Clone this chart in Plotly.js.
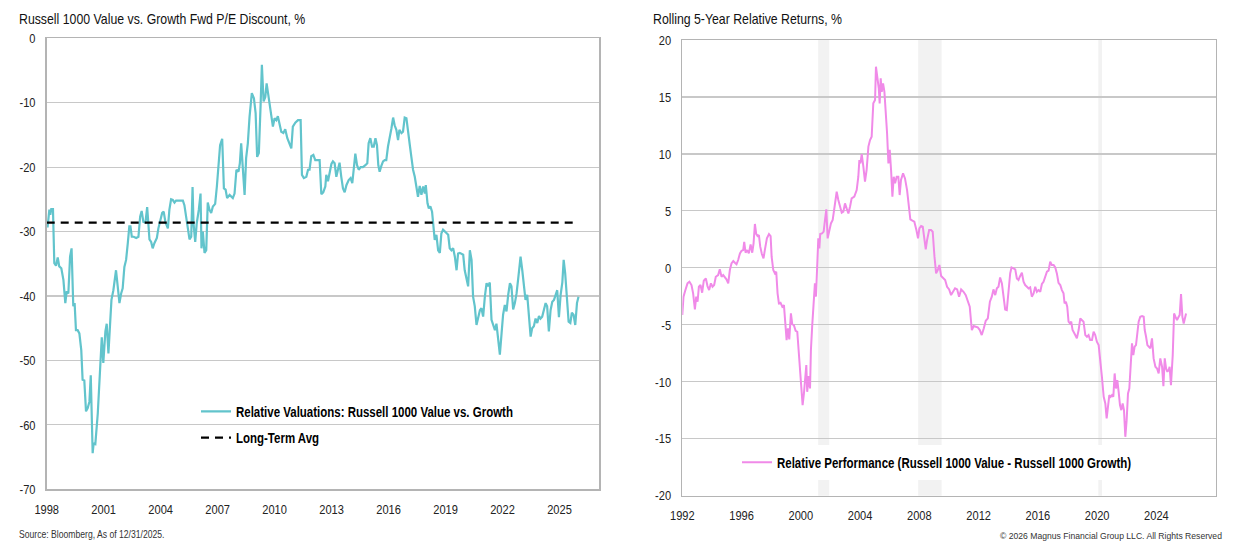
<!DOCTYPE html>
<html>
<head>
<meta charset="utf-8">
<script src="https://cdn.plot.ly/plotly-3.0.1.min.js"></script>
<style>
  html, body { margin: 0; padding: 0; background: #ffffff; }
  #chart { width: 1240px; height: 548px; }
</style>
</head>
<body>
<div id="chart"></div>
<script>
// ---------- Left chart: Russell 1000 Value vs. Growth Fwd P/E Discount, % ----------
const valYears = [
  1998.00,1998.05,1998.14,1998.19,1998.24,1998.33,1998.40,1998.49,1998.58,1998.66,1998.77,1998.88,1998.98,
  1999.05,1999.14,1999.23,1999.31,1999.40,1999.47,1999.54,1999.63,1999.72,1999.82,1999.89,1999.98,
  2000.07,2000.16,2000.25,2000.32,2000.37,2000.42,2000.47,2000.56,2000.69,2000.81,2000.90,2000.98,
  2001.09,2001.16,2001.25,2001.34,2001.41,2001.51,2001.65,2001.76,2001.83,2001.92,
  2002.00,2002.09,2002.18,2002.27,2002.35,2002.41,2002.48,2002.58,2002.71,2002.83,2002.92,
  2003.00,2003.09,2003.20,2003.29,2003.36,2003.41,2003.50,2003.58,2003.67,2003.80,2003.88,2003.97,
  2004.08,2004.16,2004.25,2004.38,2004.46,2004.55,2004.64,2004.73,2004.81,2004.99,
  2005.17,2005.25,2005.34,2005.45,2005.52,2005.61,2005.68,2005.73,2005.82,2005.90,
  2006.01,2006.10,2006.15,2006.22,2006.31,2006.40,2006.48,2006.57,2006.66,2006.75,2006.87,2006.96,
  2007.05,2007.13,2007.24,2007.33,2007.42,2007.50,2007.63,2007.71,2007.80,2007.89,2007.99,
  2008.10,2008.17,2008.24,2008.33,2008.42,2008.50,2008.59,2008.68,2008.80,2008.91,
  2009.00,2009.08,2009.17,2009.26,2009.33,2009.42,2009.51,2009.58,2009.65,2009.73,2009.82,2009.91,
  2010.00,2010.09,2010.17,2010.26,2010.35,2010.46,2010.56,2010.67,2010.79,2010.88,2010.96,
  2011.09,2011.23,2011.37,2011.44,2011.54,2011.67,2011.76,2011.84,2011.93,
  2012.04,2012.14,2012.28,2012.37,2012.46,2012.56,2012.67,2012.72,2012.81,2012.90,2012.99,
  2013.07,2013.16,2013.25,2013.34,2013.42,2013.51,2013.60,2013.69,2013.78,2013.90,
  2014.00,2014.09,2014.16,2014.25,2014.34,2014.43,2014.53,2014.65,2014.78,2014.88,2014.95,
  2015.04,2015.13,2015.22,2015.31,2015.39,2015.46,2015.53,2015.62,2015.71,2015.80,2015.88,2015.97,
  2016.06,2016.15,2016.24,2016.32,2016.41,2016.50,2016.57,2016.68,2016.76,2016.85,2016.94,
  2017.03,2017.12,2017.20,2017.29,2017.38,2017.47,2017.55,2017.64,2017.73,2017.82,2017.91,2017.96,
  2018.05,2018.12,2018.20,2018.29,2018.38,2018.43,2018.52,2018.61,2018.70,2018.78,2018.87,2018.96,
  2019.05,2019.14,2019.22,2019.31,2019.40,2019.49,2019.58,2019.66,2019.75,2019.84,2019.93,
  2020.01,2020.10,2020.19,2020.28,2020.37,2020.45,2020.54,2020.63,2020.72,2020.81,2020.89,2020.98,
  2021.07,2021.16,2021.24,2021.33,2021.42,2021.51,2021.60,2021.68,2021.77,2021.86,2021.95,
  2022.03,2022.12,2022.21,2022.30,2022.39,2022.47,2022.56,2022.65,2022.74,2022.83,2022.95,
  2023.04,2023.12,2023.21,2023.30,2023.39,2023.48,2023.56,2023.65,2023.74,2023.83,2023.92,
  2024.00,2024.09,2024.18,2024.27,2024.35,2024.44,2024.53,2024.62,2024.71,2024.79,2024.88,2024.97,
  2025.06,2025.15,2025.22,2025.30,2025.39,2025.48,2025.57,2025.65,2025.74,2025.83,2025.92,2026.00
];
const valDiscount = [
  -29.2,-29.2,-26.6,-27.4,-26.5,-26.5,-34.9,-35.3,-34.0,-35.4,-35.7,-37.5,-41.1,
  -39.3,-39.6,-33.9,-32.6,-41.6,-41.1,-45.3,-45.3,-45.8,-48.4,-53.0,-53.1,
  -57.9,-57.4,-56.4,-52.3,-60.8,-64.4,-62.9,-63.0,-58.2,-51.5,-46.4,-50.4,
  -45.5,-44.3,-48.9,-44.2,-40.6,-39.1,-36.0,-39.1,-41.1,-39.6,
  -38.8,-35.5,-34.4,-31.8,-29.2,-29.2,-30.8,-30.8,-31.0,-30.8,-27.7,
  -26.8,-28.5,-28.6,-26.2,-29.1,-31.2,-31.6,-32.6,-31.8,-31.0,-29.5,-28.5,
  -27.1,-26.9,-28.5,-29.5,-26.6,-25.0,-25.1,-25.5,-25.2,-25.2,
  -25.2,-25.9,-27.7,-29.2,-31.2,-30.8,-23.1,-28.7,-31.6,-28.7,
  -26.6,-24.1,-32.6,-30.0,-33.3,-32.9,-25.5,-26.6,-27.1,-26.1,-25.7,-23.0,
  -19.9,-16.6,-15.6,-23.3,-23.5,-24.8,-24.3,-24.6,-24.8,-24.1,-20.4,
  -20.7,-19.4,-16.3,-20.4,-24.3,-18.6,-16.3,-12.2,-8.5,-9.3,
  -11.6,-18.4,-17.8,-10.6,-4.1,-9.8,-9.1,-7.0,-8.5,-9.8,-11.4,-13.7,
  -12.4,-12.7,-12.1,-13.2,-14.5,-14.7,-14.1,-15.5,-16.6,-17.1,-13.7,
  -13.1,-12.7,-12.7,-21.2,-21.7,-21.5,-20.4,-20.4,-18.3,
  -18.1,-18.9,-18.9,-18.9,-24.2,-23.9,-23.0,-21.2,-22.2,-21.0,-19.5,
  -19.1,-19.4,-21.5,-20.4,-19.3,-21.5,-23.3,-23.9,-22.8,-22.0,
  -21.7,-22.5,-20.0,-17.9,-19.7,-20.4,-20.0,-20.0,-19.7,-19.4,-16.3,
  -15.5,-16.8,-16.8,-15.5,-16.6,-19.7,-20.7,-19.8,-19.1,-18.9,-18.9,-16.8,
  -15.5,-14.0,-12.3,-13.5,-14.2,-15.8,-14.2,-14.7,-14.5,-12.3,-12.4,
  -15.0,-16.6,-18.4,-20.4,-21.5,-23.0,-24.6,-22.9,-24.3,-23.0,-24.1,-22.8,
  -25.6,-26.4,-26.1,-26.9,-29.7,-31.3,-30.5,-32.9,-33.3,-30.3,-29.7,-30.0,
  -30.2,-30.5,-32.6,-32.9,-32.6,-33.9,-36.0,-33.4,-33.3,-33.5,-33.6,
  -36.0,-37.2,-38.5,-32.9,-34.4,-40.1,-41.6,-44.5,-43.2,-42.2,-41.9,-43.2,
  -40.1,-38.0,-38.5,-37.9,-43.7,-44.5,-45.3,-44.3,-46.6,-49.1,-45.8,
  -42.9,-41.4,-42.4,-39.8,-38.0,-38.5,-42.1,-41.1,-39.6,-37.2,-33.9,
  -36.0,-37.8,-40.6,-39.8,-43.7,-46.3,-45.0,-44.7,-43.5,-44.2,-43.1,
  -43.5,-43.2,-41.9,-41.1,-41.6,-45.5,-42.2,-40.9,-40.6,-40.0,-39.1,-43.3,
  -39.8,-37.9,-34.4,-36.5,-40.1,-44.0,-44.2,-42.6,-42.9,-44.5,-41.1,-40.1
];
const longTermAvg = -28.6;

// ---------- Right chart: Rolling 5-Year Relative Returns, % ----------
const relYears = [
  1992.00,1992.08,1992.21,1992.35,1992.48,1992.62,1992.73,1992.85,1992.94,
  1993.03,1993.12,1993.23,1993.34,1993.45,1993.59,1993.70,1993.81,1993.93,
  1994.04,1994.15,1994.26,1994.42,1994.53,1994.65,1994.76,1994.87,1994.98,
  1995.10,1995.21,1995.32,1995.44,1995.55,1995.66,1995.77,1995.89,
  1996.00,1996.11,1996.18,1996.27,1996.38,1996.49,1996.61,1996.72,1996.81,1996.90,1996.99,
  1997.08,1997.17,1997.26,1997.37,1997.48,1997.57,1997.71,1997.85,1997.96,
  1998.03,1998.14,1998.25,1998.34,1998.43,1998.52,1998.63,1998.75,1998.86,1998.95,
  1999.04,1999.13,1999.22,1999.33,1999.42,1999.53,1999.65,1999.76,1999.87,1999.98,
  2000.05,2000.12,2000.21,2000.30,2000.37,2000.43,2000.53,2000.62,2000.68,2000.77,2000.89,2000.95,
  2001.02,2001.09,2001.18,2001.25,2001.31,2001.43,2001.54,2001.63,2001.72,2001.81,2001.92,
  2002.03,2002.15,2002.26,2002.42,2002.53,2002.64,2002.76,2002.87,2002.98,
  2003.09,2003.21,2003.32,2003.43,2003.61,2003.77,2003.88,2003.95,
  2004.02,2004.11,2004.22,2004.33,2004.44,2004.56,2004.67,2004.78,2004.89,
  2005.01,2005.07,2005.16,2005.26,2005.32,2005.39,2005.46,2005.55,2005.64,2005.73,2005.82,2005.91,
  2006.00,2006.09,2006.18,2006.27,2006.36,2006.47,2006.58,2006.67,2006.76,2006.90,
  2007.03,2007.17,2007.30,2007.39,2007.53,2007.66,2007.80,2007.91,
  2008.00,2008.12,2008.23,2008.34,2008.43,2008.52,2008.66,2008.79,2008.90,
  2009.02,2009.13,2009.24,2009.35,2009.47,2009.60,2009.74,2009.87,
  2010.01,2010.14,2010.28,2010.41,2010.55,2010.68,2010.82,2010.98,
  2011.13,2011.27,2011.40,2011.54,2011.67,2011.81,2011.94,
  2012.08,2012.21,2012.35,2012.48,2012.62,2012.76,2012.89,
  2013.00,2013.12,2013.23,2013.34,2013.45,2013.57,2013.68,2013.79,2013.90,
  2014.02,2014.13,2014.22,2014.33,2014.47,2014.58,2014.69,2014.78,2014.92,
  2015.03,2015.14,2015.26,2015.37,2015.48,2015.59,2015.71,2015.82,2015.93,
  2016.04,2016.16,2016.27,2016.38,2016.49,2016.61,2016.72,2016.83,2016.94,
  2017.06,2017.17,2017.28,2017.39,2017.51,2017.62,2017.73,2017.80,2017.89,2017.98,
  2018.07,2018.16,2018.25,2018.34,2018.43,2018.52,2018.63,2018.75,2018.86,2018.97,
  2019.08,2019.20,2019.31,2019.42,2019.53,2019.65,2019.76,2019.87,2019.98,
  2020.10,2020.21,2020.32,2020.44,2020.55,2020.64,2020.73,2020.82,2020.91,
  2021.00,2021.09,2021.18,2021.27,2021.36,2021.45,2021.54,2021.63,2021.72,2021.81,2021.90,2021.99,
  2022.08,2022.17,2022.26,2022.35,2022.44,2022.53,2022.62,2022.71,2022.80,2022.91,
  2023.03,2023.14,2023.21,2023.30,2023.39,2023.48,2023.59,2023.70,2023.81,2023.93,
  2024.04,2024.15,2024.26,2024.38,2024.47,2024.56,2024.65,2024.74,2024.83,2024.89,2024.98,
  2025.10,2025.19,2025.28,2025.39,2025.50,2025.57,2025.66,2025.75,2025.84,2025.93,2026.00
];
const relPerformance = [
  -4.14,-2.53,-1.95,-1.36,-1.22,-1.51,-2.24,-3.65,-2.53,
  -2.97,-1.66,-1.51,-2.18,-1.13,-0.93,-1.60,-1.95,-1.36,
  -1.66,-1.51,-0.78,-0.63,-0.13,-0.78,-0.63,-0.78,-1.01,
  -1.36,-0.19,0.39,0.60,0.45,0.31,0.69,1.27,
  1.50,1.56,2.29,1.33,1.56,1.27,2.06,1.33,2.15,3.85,2.97,
  2.79,2.88,1.86,1.21,0.83,1.56,2.59,2.97,2.79,
  0.98,-0.19,-0.49,-0.34,-2.24,-3.12,-3.06,-3.41,-3.27,-4.58,
  -6.34,-5.31,-6.28,-4.00,-4.94,-5.03,-5.52,-5.61,-7.66,-9.27,
  -10.44,-12.05,-11.03,-9.70,-8.53,-10.88,-9.50,-10.59,-7.22,-5.03,-2.53,-1.36,
  -2.53,0.39,2.59,1.71,2.97,3.03,3.18,4.20,5.13,2.59,3.32,
  3.90,4.20,5.22,6.68,5.95,5.37,4.84,4.93,5.66,
  5.22,4.78,5.37,6.10,6.25,6.83,8.00,9.46,
  9.17,9.99,8.88,7.56,8.59,10.64,11.22,11.51,14.44,
  14.73,17.66,16.78,15.76,14.44,16.63,15.46,16.20,15.46,13.85,11.81,9.17,
  10.35,8.59,6.25,8.00,7.42,8.00,8.00,6.39,7.71,8.29,
  7.85,6.83,5.37,4.26,4.14,4.05,3.32,2.59,
  3.47,3.67,3.61,2.44,1.62,2.44,3.32,3.32,3.17,
  0.98,-0.49,-0.19,0.25,-0.72,-0.93,-1.07,-1.66,
  -1.89,-2.39,-2.10,-1.80,-1.89,-2.53,-1.89,-2.10,
  -2.39,-2.97,-3.41,-5.46,-5.11,-5.17,-5.23,
  -5.46,-5.90,-5.31,-4.64,-4.44,-2.97,-2.53,
  -1.89,-2.39,-1.80,-1.66,-0.84,-1.36,-2.83,-3.65,-3.71,
  -1.95,-0.49,0.04,-0.05,-0.13,-0.93,-1.07,-0.78,-0.43,
  -1.22,-1.51,-1.66,-1.80,-1.71,-2.53,-2.24,-1.66,-2.10,
  -1.95,-2.10,-1.42,-1.22,-0.78,-0.34,-0.25,0.54,0.25,
  0.25,0.04,-0.49,-1.31,-1.51,-1.95,-2.24,-3.12,-2.97,-3.41,
  -4.73,-4.88,-4.73,-5.46,-5.75,-5.90,-6.19,-5.46,-4.44,-4.58,
  -4.73,-5.90,-6.05,-5.90,-6.34,-6.34,-5.61,-5.90,-6.48,
  -6.78,-7.95,-9.56,-11.32,-11.90,-13.22,-11.90,-11.17,-11.32,
  -11.17,-11.32,-9.27,-10.59,-9.85,-10.88,-12.05,-12.49,-11.90,-12.49,-14.83,-13.37,
  -11.02,-10.59,-8.39,-6.63,-7.66,-6.92,-6.78,-5.46,-4.73,-4.29,
  -4.23,-4.29,-5.46,-6.05,-6.78,-6.92,-7.07,-6.19,-7.95,-8.68,
  -8.83,-9.27,-7.95,-8.68,-10.38,-7.95,-8.83,-9.12,-8.97,-8.68,-10.30,
  -7.66,-4.00,-4.29,-4.58,-4.29,-4.14,-2.30,-4.29,-4.88,-4.29,-4.00
];
// US recessions shaded on the right chart
const recessionStart = [2001.17, 2007.92, 2020.08];
const recessionEnd   = [2001.92, 2009.50, 2020.33];

const leftXTicks = [1998, 2001, 2004, 2007, 2010, 2013, 2016, 2019, 2022, 2025];
const leftYTicks = [0, -10, -20, -30, -40, -50, -60, -70];
const rightXTicks = [1992, 1996, 2000, 2004, 2008, 2012, 2016, 2020, 2024];
const rightYTicks = [20, 15, 10, 5, 0, -5, -10, -15, -20];

const FONT = '"Liberation Sans", Arial, sans-serif';
const NARROW = 0.82;        // Arial Narrow ~ Arial compressed horizontally
const NARROW_FOOT = 0.925;  // footer copyright: smaller size, lighter compression
const W = 1240, H = 548;
const px = v => v / W;
const py = v => 1 - v / H;

const traces = [
  {
    x: valYears, y: valDiscount, type: 'scatter', mode: 'lines',
    name: 'Relative Valuations: Russell 1000 Value vs. Growth',
    line: { color: '#62c4cc', width: 2.2 },
    xaxis: 'x', yaxis: 'y', legend: 'legend', hoverinfo: 'skip'
  },
  {
    x: [valYears[0], valYears[valYears.length - 1]], y: [longTermAvg, longTermAvg],
    type: 'scatter', mode: 'lines', name: 'Long-Term Avg',
    line: { color: '#000000', width: 2.2, dash: '8px,6px' },
    xaxis: 'x', yaxis: 'y', legend: 'legend2', hoverinfo: 'skip'
  },
  {
    x: relYears, y: relPerformance, type: 'scatter', mode: 'lines',
    name: 'Relative Performance (Russell 1000 Value - Russell 1000 Growth)',
    line: { color: '#f08ae8', width: 2 },
    xaxis: 'x2', yaxis: 'y2', legend: 'legend3', hoverinfo: 'skip'
  }
];

const axisCommon = {
  showline: true, mirror: true, linecolor: '#b4b4b4', linewidth: 1.5,
  gridcolor: '#c8c8c8', gridwidth: 1.2, zeroline: false,
  ticks: 'outside', ticklen: 7, tickcolor: 'rgba(0,0,0,0)',
  tickfont: { family: FONT, size: 13.5, color: '#222222' },
  tickmode: 'array', fixedrange: true
};

const shapes = recessionStart.map((s, i) => ({
  type: 'rect', xref: 'x2', yref: 'y2 domain', x0: s, x1: recessionEnd[i], y0: 0, y1: 1,
  fillcolor: '#f2f2f2', line: { width: 0 }, layer: 'below'
}));
// white legend backgrounds
shapes.push({ type: 'rect', xref: 'paper', yref: 'paper', x0: px(168), x1: px(544), y0: py(452), y1: py(396),
  fillcolor: '#ffffff', line: { width: 0 }, layer: 'between' });
shapes.push({ type: 'rect', xref: 'paper', yref: 'paper', x0: px(735), x1: px(1150), y0: py(480), y1: py(445),
  fillcolor: '#ffffff', line: { width: 0 }, layer: 'between' });

const legendFont = { family: FONT, size: 14, color: '#000000', weight: 'bold' };
const legendCommon = { bgcolor: 'rgba(0,0,0,0)', borderwidth: 0, font: legendFont,
  xanchor: 'left', yanchor: 'middle', itemclick: false, itemdoubleclick: false };

const layout = {
  width: W, height: H,
  margin: { l: 0, r: 0, t: 0, b: 0 },
  paper_bgcolor: '#ffffff', plot_bgcolor: '#ffffff',
  showlegend: true,
  xaxis: Object.assign({}, axisCommon, {
    domain: [px(46.7), px(599)], range: [1998, 2027.08],
    tickvals: leftXTicks, ticktext: leftXTicks.map(String),
    showgrid: false, anchor: 'y'
  }),
  yaxis: Object.assign({}, axisCommon, {
    domain: [py(489.3), py(38.3)], range: [-70, 0],
    tickvals: leftYTicks, ticktext: leftYTicks.map(String), anchor: 'x'
  }),
  xaxis2: Object.assign({}, axisCommon, {
    domain: [px(682.3), px(1215.7)], range: [1992, 2028],
    tickvals: rightXTicks, ticktext: rightXTicks.map(String),
    showgrid: false, anchor: 'y2'
  }),
  yaxis2: Object.assign({}, axisCommon, {
    domain: [py(495.7), py(40)], range: [-20, 20],
    tickvals: rightYTicks, ticktext: rightYTicks.map(String), anchor: 'x2'
  }),
  legend: Object.assign({}, legendCommon, { x: px(196), y: py(411.7) }),
  legend2: Object.assign({}, legendCommon, { x: px(196), y: py(438) }),
  legend3: Object.assign({}, legendCommon, { x: px(737), y: py(462.7) }),
  shapes: shapes,
  annotations: [
    { text: 'Russell 1000 Value vs. Growth Fwd P/E Discount, %', xref: 'paper', yref: 'paper',
      x: px(17), y: py(18), xanchor: 'left', yanchor: 'middle', align: 'left', showarrow: false,
      font: { family: FONT, size: 15, color: '#111111' } },
    { text: 'Rolling 5-Year Relative Returns, %', xref: 'paper', yref: 'paper',
      x: px(651), y: py(18), xanchor: 'left', yanchor: 'middle', align: 'left', showarrow: false,
      font: { family: FONT, size: 15, color: '#111111' } },
    { text: 'Source: Bloomberg, As of 12/31/2025.', xref: 'paper', yref: 'paper',
      x: px(17), y: py(534.3), xanchor: 'left', yanchor: 'middle', align: 'left', showarrow: false,
      font: { family: FONT, size: 10.5, color: '#333333' } },
    { text: '© 2026 Magnus Financial Group LLC. All Rights Reserved', xref: 'paper', yref: 'paper',
      x: px(998), y: py(535.7), xanchor: 'left', yanchor: 'middle', align: 'left', showarrow: false,
      font: { family: FONT, size: 9.3, color: '#333333' } }
  ]
};

// Emulate the narrow typeface: compress every text run horizontally about its anchor.
function narrowText(gd) {
  gd.querySelectorAll('svg text').forEach(t => {
    const len = t.getComputedTextLength ? t.getComputedTextLength() : 0;
    if (!len) return;
    const f = t.textContent.trim().startsWith('©') ? NARROW_FOOT : NARROW;
    t.setAttribute('textLength', (len * f).toFixed(2));
    t.setAttribute('lengthAdjust', 'spacingAndGlyphs');
  });
}

const gd = document.getElementById('chart');
Plotly.newPlot(gd, traces, layout, { displayModeBar: false, staticPlot: true })
  .then(() => narrowText(gd));
</script>
</body>
</html>
